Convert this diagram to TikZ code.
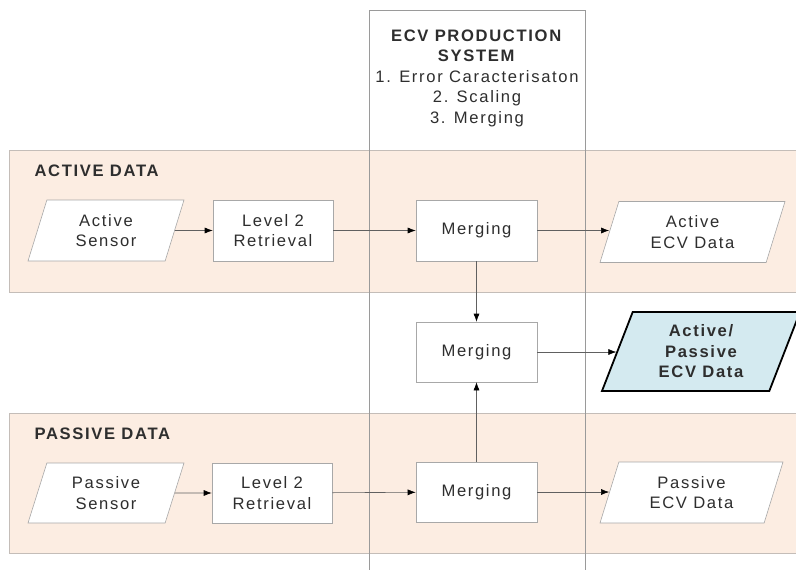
\documentclass[tikz,border=0pt]{standalone}
\usepackage{fontspec}
\setmainfont{Liberation Sans}[LetterSpace=10]
\usetikzlibrary{shapes.geometric,arrows.meta,positioning}
\usepackage{xcolor}

\definecolor{bandfill}{HTML}{FCEDE2}
\definecolor{bandline}{HTML}{C4BDB8}
\definecolor{boxline}{HTML}{A8A8A8}
\definecolor{colline}{HTML}{9A9A9A}
\definecolor{txt}{HTML}{2E2E2E}
\definecolor{ecvblue}{HTML}{D4EAF0}

\begin{document}
\begin{tikzpicture}[
    x=1pt, y=-1pt,
    every node/.style={text=txt, font=\fontsize{16.6}{20.5}\selectfont},
    band/.style={draw=bandline, fill=bandfill, line width=0.8pt},
    colline/.style={draw=colline, line width=0.8pt},
    box/.style={rectangle, draw=boxline, fill=white, line width=0.6pt, minimum width=120pt, minimum height=61pt, align=center, inner sep=0pt},
    datum/.style={trapezium, trapezium left angle=60, trapezium right angle=120, trapezium stretches body, draw=boxline, fill=white, line width=0.6pt, minimum height=61pt, align=center, inner sep=0pt},
    result/.style={datum, draw=black, fill=ecvblue, line width=1.8pt, minimum height=79pt, font=\fontsize{16.6}{20.5}\selectfont\bfseries},
    arrow/.style={-{Latex[length=8pt,width=6pt,color=black]}, draw=gray!75!black, line width=0.6pt}
]
\useasboundingbox (0,0) rectangle (796,570);

% Data bands
\draw[band] (9,150) rectangle (805,292);
\draw[band] (9,413) rectangle (805,553);

% Production system column
\draw[colline] (369,572) -- (369,10) -- (585,10) -- (585,572);
\node[align=center] (system) at (477,78) {\textbf{ECV PRODUCTION}\\\textbf{SYSTEM}\\1. Error Caracterisaton\\2. Scaling\\3. Merging};

% Band titles
\node[anchor=west, font=\fontsize{16.6}{20.5}\selectfont\bfseries] (activetitle) at (31,171) {ACTIVE DATA};
\node[anchor=west, font=\fontsize{16.6}{20.5}\selectfont\bfseries] (passivetitle) at (31,434) {PASSIVE DATA};

% Active chain
\node[datum, minimum width=156pt] (asensor) at (106,230.5) {Active\\Sensor};
\node[box] (aretrieval) at (273,230.5) {Level 2\\Retrieval};
\node[box, minimum width=121pt] (amerge) at (476.5,230.5) {Merging};
\node[datum, minimum width=185pt] (aecv) at (692.5,232) {Active\\ECV Data};

% Combined merge
\node[box, minimum width=121pt, minimum height=60pt] (mmerge) at (476.5,352) {Merging};
\node[result, minimum width=198pt] (apecv) at (701,351.5) {Active/\\Passive\\ECV Data};

% Passive chain
\node[datum, minimum width=156pt, minimum height=60pt] (psensor) at (106,493) {Passive\\Sensor};
\node[box, minimum height=60pt] (pretrieval) at (272,493) {Level 2\\Retrieval};
\node[box, minimum width=121pt, minimum height=60pt] (pmerge) at (476.5,492) {Merging};
\node[datum, minimum width=183pt] (pecv) at (691.5,492.5) {Passive\\ECV Data};

% Connections
\draw[arrow] (asensor) -- (aretrieval);
\draw[arrow] (aretrieval) -- (amerge);
\draw[arrow] (amerge.east) -- (amerge.east -| aecv.west);
\draw[arrow] (amerge) -- (mmerge);
\draw[arrow] (pmerge) -- (mmerge);
\draw[arrow] (mmerge.east) -- (mmerge.east -| apecv.west);
\draw[arrow] (psensor) -- (pretrieval);
\draw[arrow] (pretrieval) -- (pmerge);
\draw[arrow] (pmerge.east) -- (pmerge.east -| pecv.west);

\end{tikzpicture}
\end{document}
